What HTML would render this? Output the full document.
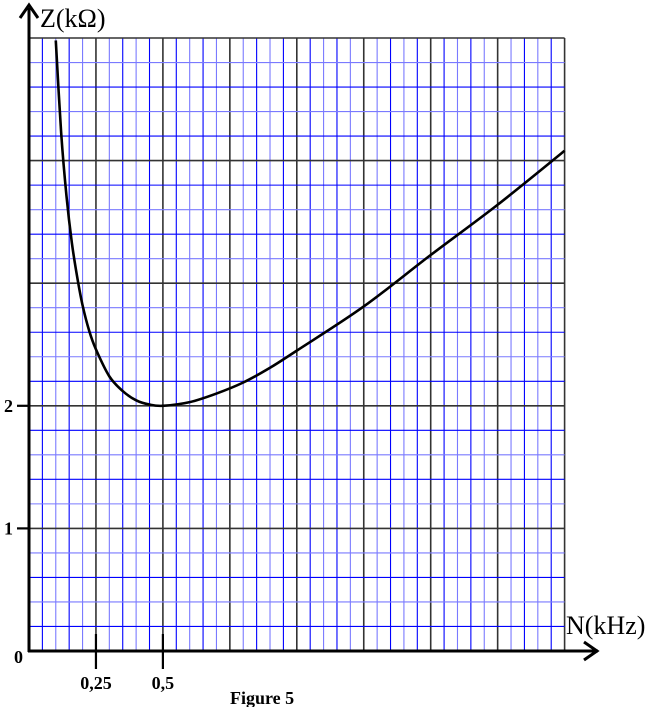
<!DOCTYPE html>
<html><head><meta charset="utf-8"><style>
html,body{margin:0;padding:0;background:#fff;}
svg{display:block;}
text{font-family:"Liberation Serif",serif;}
</style></head><body>
<svg id="chart" width="657" height="707" viewBox="0 0 657 707" xmlns="http://www.w3.org/2000/svg">
<g id="grid"></g>
<path id="curve" fill="none" stroke="#000" stroke-width="2.6"/>
<g>
<line x1="29" y1="652" x2="29" y2="8" stroke="#000" stroke-width="3"/>
<polyline points="20,18 29,5 38,18" fill="none" stroke="#000" stroke-width="3"/>
<line x1="28" y1="651" x2="598" y2="651" stroke="#000" stroke-width="3"/>
<polyline points="584,642 597,651 584,660" fill="none" stroke="#000" stroke-width="3"/>
</g>
<text x="40" y="27" font-size="26">Z(kΩ)</text>
<text x="566" y="634" font-size="26">N(kHz)</text>
<g id="ticks"></g>
<text x="230" y="704" font-size="18" font-weight="bold">Figure 5</text>
</svg>
<script>
const xTicks = [0.25, 0.5];
const xTickLabels = ["0,25", "0,5"];
const yTicks = [1, 2];
const yTickLabels = ["1", "2"];
const freqN = [0.1, 0.12, 0.14, 0.16, 0.18, 0.2, 0.225, 0.25, 0.3, 0.35, 0.4, 0.45, 0.5, 0.6, 0.7, 0.8, 0.9, 1.0, 1.25, 1.5, 1.75, 2.0];
const impedanceZ = [4.98, 4.23, 3.71, 3.33, 3.05, 2.82, 2.61, 2.46, 2.24, 2.12, 2.045, 2.01, 2.0, 2.03, 2.10, 2.19, 2.31, 2.45, 2.81, 3.23, 3.64, 4.08];

const X0 = 29, Y0 = 651, PXK = 267.8, PYK = 122.6;
function xs(n){ return X0 + n * PXK; }
function ys(z){ return Y0 - z * PYK; }
const NS = "http://www.w3.org/2000/svg";
function mk(tag, attrs, parent){
  const e = document.createElementNS(NS, tag);
  for (const k in attrs) e.setAttribute(k, attrs[k]);
  parent.appendChild(e); return e;
}
const grid = document.getElementById('grid');
const xMax = 2.0, zMax = 5.0;
for (let i = 1; i <= 40; i++) {
  const n = i * 0.05, major = i % 5 === 0;
  const l = mk('line', {x1: xs(n), x2: xs(n), y1: ys(zMax), y2: Y0,
    stroke: major ? '#333' : (i % 2 ? '#0000ff' : '#7a7aff'), 'stroke-width': major ? 1.6 : 1.1}, grid);
  
  
}
for (let j = 1; j <= 25; j++) {
  const z = j * 0.2, major = j % 5 === 0;
  const l = mk('line', {x1: X0, x2: xs(xMax), y1: ys(z), y2: ys(z),
    stroke: major ? '#333' : (j % 2 ? '#0000ff' : '#7a7aff'), 'stroke-width': major ? 1.6 : 1.1}, grid);
  
  
}
const pts = freqN.map((n, i) => [xs(n), ys(impedanceZ[i])]);
let d = 'M' + pts[0][0] + ',' + pts[0][1];
for (let i = 0; i < pts.length - 1; i++) {
  const p0 = pts[Math.max(0, i - 1)], p1 = pts[i], p2 = pts[i + 1], p3 = pts[Math.min(pts.length - 1, i + 2)];
  const c1 = [p1[0] + (p2[0] - p0[0]) / 6, p1[1] + (p2[1] - p0[1]) / 6];
  const c2 = [p2[0] - (p3[0] - p1[0]) / 6, p2[1] - (p3[1] - p1[1]) / 6];
  d += ' C' + c1 + ' ' + c2 + ' ' + p2;
}
const curve = document.getElementById('curve');
curve.setAttribute('d', d);
const defs = mk('defs', {}, document.getElementById('chart'));
const cp = mk('clipPath', {id: 'clipTop'}, defs);
mk('rect', {x: 0, y: ys(zMax), width: 657, height: 707}, cp);
curve.setAttribute('clip-path', 'url(#clipTop)');
const tg = document.getElementById('ticks');
xTicks.forEach((n, i) => {
  const t = mk('line', {x1: xs(n), x2: xs(n), y1: 634, y2: 669, stroke: '#000', 'stroke-width': 2.2}, tg);
  
  
  const tx = mk('text', {x: xs(n), y: 689, 'font-size': 18, 'font-weight': 'bold', 'text-anchor': 'middle'}, tg);
  tx.textContent = xTickLabels[i];
  
  
});
yTicks.forEach((z, i) => {
  const t = mk('line', {x1: 17, x2: 29, y1: ys(z), y2: ys(z), stroke: '#000', 'stroke-width': 2.2}, tg);
  
  
  const tx = mk('text', {x: 4, y: ys(z) + 6, 'font-size': 18, 'font-weight': 'bold'}, tg);
  tx.textContent = yTickLabels[i];
  
  
});
const zero = mk('text', {x: 14, y: 663, 'font-size': 18, 'font-weight': 'bold'}, tg);
zero.textContent = '0';


</script>
</body></html>
